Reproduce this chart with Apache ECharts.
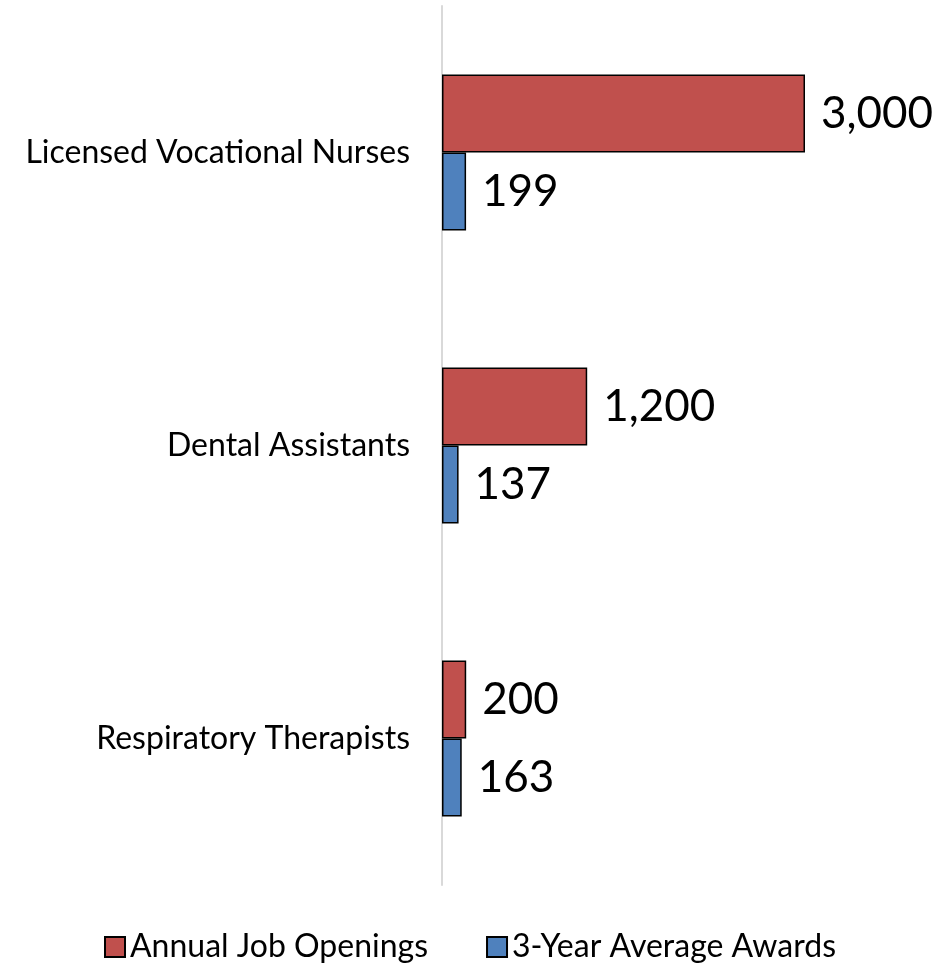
<!DOCTYPE html>
<html lang="en">
<head>
    <meta charset="utf-8">
    <title>Job Openings vs Awards</title>
    <style>
        html, body { margin: 0; padding: 0; background: #fff; }
    </style>
</head>
<body>
    <div id="main" style="width:940px;height:967px;"></div>
    <script src="https://cdn.jsdelivr.net/npm/echarts@6/dist/echarts.min.js"></script>
    <script type="text/javascript">
        var categories = ['Licensed Vocational Nurses', 'Dental Assistants', 'Respiratory Therapists'];
        var jobOpenings = [3000, 1200, 200];
        var avgAwards = [199, 137, 163];

        var FONT = 'Lato';

        var myChart = echarts.init(document.getElementById('main'));

        var labelStyle = {
            show: true,
            position: 'right',
            distance: 16,
            color: '#000',
            fontFamily: FONT,
            fontSize: 44,
            formatter: function (p) {
                return p.value.toLocaleString('en-US');
            }
        };

        option = {
            animation: false,
            textStyle: { fontFamily: FONT },
            grid: {
                left: 442,
                top: 6,
                width: 363,
                height: 879
            },
            legend: {
                top: 926,
                left: 'center',
                icon: 'rect',
                itemWidth: 20,
                itemHeight: 20,
                itemGap: 58,
                textStyle: { fontSize: 32, color: '#000', fontFamily: FONT },
                data: ['Annual Job Openings', '3-Year Average Awards']
            },
            xAxis: {
                type: 'value',
                min: 0,
                max: 3000,
                show: false
            },
            yAxis: {
                type: 'category',
                inverse: true,
                data: categories,
                axisLine: { show: true, lineStyle: { color: '#d9d9d9', width: 2 } },
                axisTick: { show: false },
                axisLabel: {
                    margin: 32,
                    color: '#000',
                    fontSize: 32,
                    fontFamily: FONT
                }
            },
            series: [{
                name: 'Annual Job Openings',
                type: 'bar',
                data: jobOpenings,
                barWidth: 78,
                barGap: '0%',
                itemStyle: { color: '#C0504D', borderColor: '#000', borderWidth: 1.5 },
                label: labelStyle
            }, {
                name: '3-Year Average Awards',
                type: 'bar',
                data: avgAwards,
                barWidth: 78,
                barGap: '0%',
                itemStyle: { color: '#4F81BD', borderColor: '#000', borderWidth: 1.5 },
                label: labelStyle
            }]
        };
        myChart.setOption(option);
    </script>
</body>
</html>
